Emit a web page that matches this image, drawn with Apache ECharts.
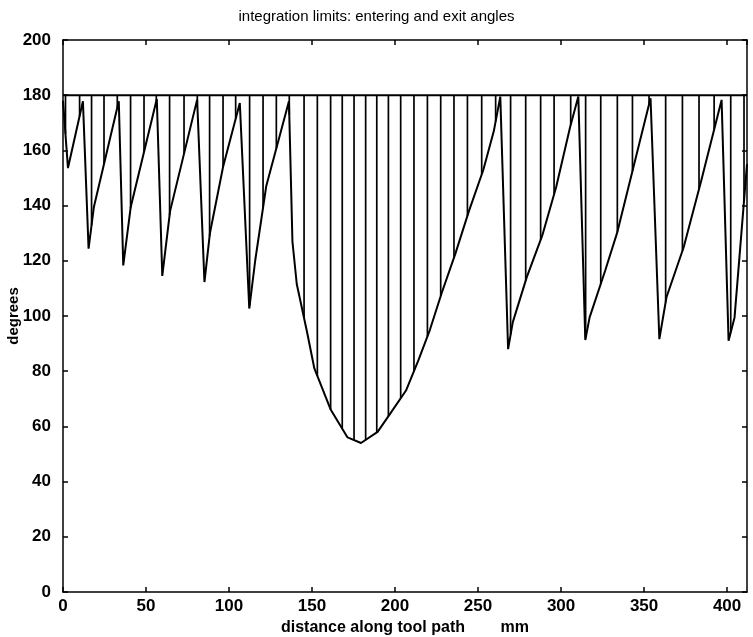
<!DOCTYPE html>
<html>
<head>
<meta charset="utf-8">
<script src="https://cdn.jsdelivr.net/npm/echarts@6/dist/echarts.min.js"></script>
<style>
  html, body { margin: 0; padding: 0; background: #fff; }
  #main { width: 753px; height: 637px; }
</style>
</head>
<body>
<div id="main"></div>
<script>
// exit angle curve (distance mm, degrees)
var exitX = [0, 3.0, 12.0, 15.4, 18.6, 33.6, 36.3, 40.8, 56.5, 59.8, 64.5, 80.8,
    85.2, 88.5, 96.4, 106.5, 112.2, 115.8, 122.4, 136.1, 138.2, 140.8, 146.9, 151.4,
    161.3, 171.4, 179.5, 189.5, 197.5, 206.6, 214.1, 221, 228.2, 236.3, 244.5, 253.2,
    259.5, 263.4, 268.1, 270.9, 279.3, 288.7, 297.1, 305.5, 310.4, 314.6, 317.2,
    326.6, 333.9, 344.4, 353.9, 359.2, 363.5, 373.9, 384.5, 396.7, 400.9, 404.5, 412];
var exitY = [178, 153.6, 177.8, 124.4, 139.5, 177.8, 118.3, 139.5, 178.6, 114.5, 138, 178.4,
    112.3, 130, 154, 177.2, 102.7, 120.2, 147, 177.8, 127, 111.6, 94.5, 81,
    66, 56, 54, 58, 65, 73, 84, 95, 108.5, 122.5, 138, 153,
    167, 179.5, 88, 97.7, 114, 129.2, 146.8, 168.6, 179.5, 91.3, 99.5,
    116.5, 130.4, 155.9, 178.9, 91.6, 106.8, 125, 149.2, 178.3, 91, 99.5, 155];

// entering angle
var entryX = [0, 412];
var entryY = [180, 180];

// hatch lines between entering and exit angle
var hatchX = [1.5, 10.0, 17.2, 24.7, 32.7, 40.7, 48.8, 56.2, 64.2, 72.9,
    80.9, 88.3, 96.4, 104.0, 112.4, 120.5, 128.5, 136.3, 145.2, 153.2,
    161.2, 168.2, 175.3, 182.3, 189.0, 196.0, 203.4, 211.4, 219.5, 227.5,
    235.5, 243.6, 252.2, 260.6, 269.6, 278.7, 287.7, 295.8, 305.8, 314.8,
    323.9, 333.9, 343.0, 353.0, 363.0, 373.1, 383.1, 392.2, 402.2, 410.2];
var hatchY = [166, 172.4, 132.9, 155.1, 175.5, 139.0, 159.4, 177.8, 136.5, 158.8,
    177, 128.9, 154, 171.5, 103.7, 139.3, 160.7, 173, 99.3, 78.3,
    66.2, 59.2, 55, 55.1, 57.8, 63.7, 70.2, 80, 92.6, 107.2,
    121.1, 136.3, 151.3, 170.5, 93.2, 112.8, 127.6, 144.1, 169.3, 91.9,
    111.6, 130.4, 152.5, 176.7, 105, 123.6, 146, 167.6, 94.1, 141.7];

var xTicks = { min: 0, max: 412, interval: 50 };
var yTicks = { min: 0, max: 200, interval: 20 };

var myChart = echarts.init(document.getElementById('main'));

var font = 'Liberation Sans';
var axisLine = { show: true, onZero: false, lineStyle: { color: '#000', width: 1.5 } };
var tick = { show: true, inside: true, length: 5, lineStyle: { color: '#000', width: 1.5 } };

function zip(a, b) {
    return a.map(function (v, i) { return [v, b[i]]; });
}

var option = {
    animation: false,
    backgroundColor: '#fff',
    title: {
        text: 'integration limits: entering and exit angles',
        left: 'center',
        top: 4,
        textStyle: { fontFamily: font, fontSize: 15, fontWeight: 'normal', color: '#000' }
    },
    grid: { left: 63, right: 6, top: 40, bottom: 45, outerBoundsMode: 'none', containLabel: false },
    xAxis: [
        {
            type: 'value', position: 'bottom',
            min: xTicks.min, max: xTicks.max, interval: xTicks.interval,
            name: 'distance along tool path        mm',
            nameLocation: 'middle', nameGap: 27,
            nameTextStyle: { fontFamily: font, fontSize: 16, fontWeight: 'bold', color: '#000' },
            axisLine: axisLine, axisTick: tick,
            axisLabel: { fontFamily: font, fontSize: 17, fontWeight: 'bold', color: '#000', margin: 6, showMaxLabel: false },
            splitLine: { show: false }
        },
        {
            type: 'value', position: 'top',
            min: xTicks.min, max: xTicks.max, interval: xTicks.interval,
            axisLine: axisLine, axisTick: tick,
            axisLabel: { show: false },
            splitLine: { show: false }
        }
    ],
    yAxis: [
        {
            type: 'value', position: 'left',
            min: yTicks.min, max: yTicks.max, interval: yTicks.interval,
            name: 'degrees', nameLocation: 'middle', nameGap: 42, nameRotate: 90,
            nameMoveOverlap: false,
            nameTextStyle: { fontFamily: font, fontSize: 15, fontWeight: 'bold', color: '#000' },
            axisLine: axisLine, axisTick: tick,
            axisLabel: { fontFamily: font, fontSize: 17, fontWeight: 'bold', color: '#000', margin: 12 },
            splitLine: { show: false }
        },
        {
            type: 'value', position: 'right',
            min: yTicks.min, max: yTicks.max, interval: yTicks.interval,
            axisLine: axisLine, axisTick: tick,
            axisLabel: { show: false },
            splitLine: { show: false }
        }
    ],
    series: [
        {
            name: 'hatch',
            type: 'custom',
            clip: true,
            data: zip(hatchX, hatchY),
            renderItem: function (params, api) {
                var top = api.coord([api.value(0), entryY[0]]);
                var bot = api.coord([api.value(0), api.value(1)]);
                return {
                    type: 'line',
                    shape: { x1: top[0], y1: top[1], x2: bot[0], y2: bot[1] },
                    style: { stroke: '#000', lineWidth: 1.7 }
                };
            }
        },
        {
            name: 'entering',
            type: 'line',
            data: zip(entryX, entryY),
            symbol: 'none',
            lineStyle: { color: '#000', width: 2 }
        },
        {
            name: 'exit',
            type: 'line',
            data: zip(exitX, exitY),
            symbol: 'none',
            clip: true,
            lineStyle: { color: '#000', width: 2 }
        }
    ]
};

option && myChart.setOption(option);
</script>
</body>
</html>
